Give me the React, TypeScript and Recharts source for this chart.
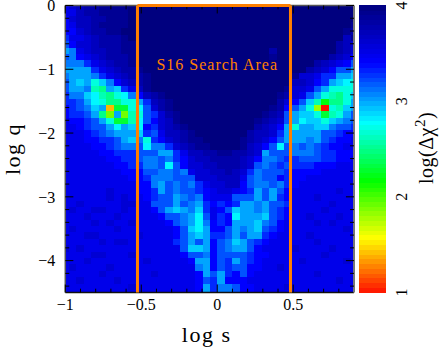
import React from "react";
import { ScatterChart, Scatter, XAxis, YAxis, ReferenceLine, ReferenceDot } from "recharts";

// log(delta chi^2) x 10; rows run from q=0 downward, columns from s=-1 rightward
const rows: number[][] = [
[35,36,37,38,38,39,39,39,39,40,40,40,40,40,40,40,40,40,40,40,40,40,40,40,40,40,40,40,40,40,40,40,40,40,40,40,40,40,40,40],
[35,35,37,38,38,39,39,39,39,40,40,40,40,40,40,40,40,40,40,40,40,40,40,40,40,40,40,40,40,40,40,40,40,40,40,40,40,40,40,40],
[34,36,37,37,38,38,39,39,39,40,40,40,40,40,40,40,40,40,40,40,40,40,40,40,40,40,40,40,40,40,40,40,40,40,40,40,40,40,40,40],
[34,35,37,37,38,39,39,39,39,40,40,40,40,40,40,40,40,40,40,40,40,40,40,40,40,40,40,40,40,40,40,40,40,40,40,40,40,40,40,39],
[34,34,36,37,38,38,39,39,40,40,40,40,40,40,40,40,40,40,40,40,40,40,40,40,40,40,40,40,40,40,40,40,40,40,40,40,40,40,39,38],
[33,35,35,36,37,38,38,38,39,40,40,40,40,40,40,40,40,40,40,40,40,40,40,40,40,40,40,40,40,40,40,40,40,40,40,40,40,40,37,39],
[32,34,36,36,37,38,38,38,39,39,40,40,40,40,40,40,40,40,40,40,40,40,40,40,40,40,40,40,40,40,40,40,40,40,40,40,40,38,37,36],
[30,31,35,36,37,37,38,38,39,39,40,40,40,40,40,40,40,40,40,40,40,40,40,40,40,40,40,40,38,40,40,40,40,40,40,40,40,38,37,36],
[32,31,34,35,36,37,38,38,38,39,40,40,40,40,40,40,40,40,40,40,40,40,40,40,40,40,40,40,39,40,40,40,40,40,40,40,38,37,36,34],
[31,31,31,33,35,36,37,38,38,39,40,40,40,40,40,40,40,40,40,40,40,40,40,40,40,40,40,40,40,40,40,40,40,40,38,37,36,35,34,32],
[30,30,30,30,33,35,36,37,38,38,39,40,40,40,40,40,40,40,40,40,40,40,40,40,40,40,40,40,40,40,40,40,40,38,37,36,34,32,32,30],
[31,30,30,30,31,33,35,36,37,38,38,39,40,40,40,40,40,40,40,40,40,40,40,40,40,40,40,40,40,40,40,39,36,36,35,33,33,30,30,29],
[32,30,29,30,27,29,31,34,36,37,38,39,40,40,40,40,40,40,40,40,40,40,40,40,40,40,40,40,40,40,40,37,37,36,34,33,30,29,28,27],
[32,30,30,31,26,25,30,29,33,35,37,39,40,40,40,40,40,40,40,40,40,40,40,40,40,40,40,40,40,40,39,36,36,35,32,30,27,27,27,27],
[33,31,31,29,28,26,25,27,28,31,34,37,38,39,40,40,40,40,40,40,40,40,40,40,40,40,40,40,40,39,38,36,35,32,30,27,26,25,27,29],
[33,33,32,30,28,27,25,25,27,27,30,33,37,38,39,40,40,40,40,40,40,40,40,40,40,40,40,40,40,38,36,34,32,29,26,22,25,25,27,30],
[34,33,32,31,29,30,14,23,23,27,28,32,36,38,39,40,40,40,40,40,40,40,40,40,40,40,40,40,39,38,34,32,30,27,18,10,27,26,29,30],
[34,33,33,32,30,25,19,30,19,26,27,32,33,36,38,39,40,40,40,40,40,40,40,40,40,40,40,39,38,37,32,30,29,29,27,23,26,27,30,32],
[35,34,34,33,32,30,27,23,23,26,28,32,34,36,37,39,40,40,40,40,40,40,40,40,40,40,39,38,37,36,32,30,28,29,29,27,29,30,31,32],
[35,35,34,33,32,32,30,28,30,29,28,34,33,36,37,38,39,40,40,40,40,40,40,40,40,40,38,37,36,34,30,27,30,30,29,29,31,32,32,33],
[35,35,35,34,33,32,31,30,30,30,29,33,32,35,37,37,38,39,40,40,40,40,40,40,40,38,37,37,36,33,30,30,30,30,30,32,32,33,34,34],
[35,35,35,34,34,33,33,32,30,29,31,27,33,34,36,37,38,39,39,40,40,40,40,40,39,38,37,36,34,32,30,30,30,31,30,32,33,34,34,35],
[35,35,35,35,34,34,33,32,31,31,32,28,31,31,33,36,37,38,39,39,40,40,40,40,39,37,36,34,32,28,32,31,32,31,32,33,34,34,35,35],
[35,35,35,35,35,34,34,33,33,33,32,32,32,30,30,33,35,37,37,38,38,39,39,38,38,37,36,30,32,32,32,31,31,31,32,33,33,34,34,34],
[35,35,35,35,35,35,34,34,33,33,32,31,31,32,31,33,34,36,37,37,38,38,38,38,37,36,34,31,31,32,33,33,32,32,32,33,33,34,34,35],
[35,35,35,35,35,35,35,34,34,33,33,31,31,32,28,32,34,36,36,37,37,38,38,38,37,36,32,31,32,33,32,33,33,33,34,34,34,35,35,35],
[35,35,35,35,35,35,35,35,34,34,34,32,32,31,31,32,31,35,36,36,37,37,38,37,36,33,31,32,32,32,33,34,34,34,34,35,35,35,35,35],
[35,35,35,35,35,35,35,35,35,34,34,33,31,31,31,32,32,32,36,36,36,37,37,37,35,32,31,32,32,34,33,34,34,35,35,35,35,35,35,35],
[35,35,35,35,35,35,35,35,35,35,34,34,31,30,32,31,32,31,33,35,36,36,37,37,34,32,31,31,32,31,33,34,35,35,35,35,35,35,35,35],
[35,35,35,35,35,35,36,35,35,35,34,34,33,30,32,31,32,32,33,34,35,36,36,35,34,33,30,32,30,32,34,35,35,35,35,35,35,36,35,35],
[35,35,35,35,35,35,36,35,36,35,35,34,33,32,32,30,31,32,31,34,35,35,35,32,32,32,30,32,30,33,34,35,35,35,36,35,35,35,35,35],
[35,35,36,35,35,35,35,35,36,36,35,35,32,32,32,30,32,31,30,33,34,33,34,33,30,30,31,30,32,32,33,35,35,35,35,35,36,35,35,35],
[35,36,35,35,36,36,35,35,36,35,35,35,34,32,30,29,30,31,29,33,35,34,32,29,30,30,31,30,32,33,34,35,35,35,35,36,35,35,35,35],
[35,35,35,36,35,35,35,36,35,35,35,35,35,34,32,32,31,30,28,32,35,33,34,28,30,30,30,29,32,33,34,35,35,36,35,35,35,36,35,35],
[35,35,35,35,36,35,36,35,35,36,35,35,35,35,34,32,31,30,28,31,34,33,34,30,30,30,29,31,32,34,35,35,35,35,36,35,36,35,35,35],
[35,36,35,35,35,35,35,36,35,35,35,35,35,35,35,34,32,29,28,30,34,34,32,30,31,30,29,32,33,34,35,35,35,35,35,35,35,35,36,35],
[35,35,35,36,36,35,35,35,35,35,36,35,35,35,35,34,32,30,29,30,33,33,32,30,32,30,30,33,34,35,35,35,35,36,35,35,35,35,35,35],
[35,35,35,35,35,36,35,36,36,35,35,35,35,35,35,33,32,30,32,30,34,32,31,29,30,32,33,34,35,35,35,35,35,35,36,35,35,35,35,35],
[36,35,36,35,35,35,35,35,35,35,35,35,35,35,35,35,32,29,29,30,34,32,31,30,30,32,34,35,35,35,35,36,35,35,35,35,36,35,35,35],
[35,35,35,35,36,36,35,35,35,36,35,35,35,35,35,35,34,32,32,31,34,32,32,32,32,33,34,34,35,35,35,35,35,35,35,36,35,35,35,35],
[35,35,35,36,35,35,35,35,35,35,35,36,35,35,35,35,35,34,30,30,34,32,33,30,32,33,34,35,35,35,35,35,36,35,35,35,35,35,36,35],
[35,36,35,35,35,35,36,35,35,35,35,35,35,35,35,35,35,35,31,30,34,32,33,32,32,34,34,35,35,36,35,35,35,35,35,35,35,35,35,35],
[35,35,35,35,35,36,35,35,35,35,35,35,36,35,35,35,35,35,34,30,32,30,33,34,32,34,35,35,35,35,35,35,35,35,36,35,35,35,35,35],
[35,35,36,35,35,35,35,36,35,35,35,35,35,35,35,35,35,35,34,32,33,30,34,34,34,35,35,35,35,35,35,35,35,35,35,35,35,36,35,35],
[35,35,35,35,35,35,35,35,35,36,35,35,35,35,35,35,35,35,34,30,33,31,31,32,34,34,35,35,35,35,36,35,35,35,35,35,35,35,35,35],
[35,35,35,35,35,35,35,35,35,35,35,35,35,35,35,35,35,35,34,30,33,31,31,32,34,34,35,35,35,35,35,35,35,35,35,35,35,35,35,35],
];
const firstS = -0.9996;
const stepS = 0.0488;
const firstQ = -0.009;
const stepQ = 0.1;

const xLabelTicks = [-1, -0.5, 0, 0.5];
const yLabelTicks = [0, -1, -2, -3, -4];
const xMinor = [-0.9,-0.8,-0.7,-0.6,-0.4,-0.3,-0.2,-0.1,0.1,0.2,0.3,0.4,0.6,0.7,0.8];
const yMinor = [-0.2,-0.4,-0.6,-0.8,-1.2,-1.4,-1.6,-1.8,-2.2,-2.4,-2.6,-2.8,-3.2,-3.4,-3.6,-3.8,-4.2,-4.4];
const barLevels = [1,1.05,1.1,1.15,1.2,1.25,1.3,1.35,1.4,1.45,1.5,1.55,1.6,1.65,1.7,1.75,1.8,1.85,1.9,1.95,2,2.05,2.1,2.15,2.2,2.25,2.3,2.35,2.4,2.45,2.5,2.55,2.6,2.65,2.7,2.75,2.8,2.85,2.9,2.95,3,3.05,3.1,3.15,3.2,3.25,3.3,3.35,3.4,3.45,3.5,3.55,3.6,3.65,3.7,3.75,3.8,3.85,3.9,3.95];
const barTicksMajor = [1,2,3,4];
const barTicksMinor = [1.2,1.4,1.6,1.8,2.2,2.4,2.6,2.8,3.2,3.4,3.6,3.8];
const searchBounds = [-0.525, 0.482];

const stops: [number, number, number, number][] = [
  [1, 255, 16, 0], [1.57, 255, 255, 0], [2.17, 0, 255, 0], [2.78, 0, 255, 255], [3.4, 0, 0, 255], [4, 0, 0, 127],
];
function color(v: number) {
  const c = Math.min(4, Math.max(1, v));
  for (let k = 0; k < stops.length - 1; k++) {
    const a = stops[k], b = stops[k + 1];
    if (c <= b[0]) {
      const t = (c - a[0]) / (b[0] - a[0]);
      const m = (n: number) => Math.round(a[n] + (b[n] - a[n]) * t);
      return `rgb(${m(1)},${m(2)},${m(3)})`;
    }
  }
  return "rgb(0,0,127)";
}

const cells = rows.flatMap((r, j) => r.map((v, i) => ({ s: firstS + stepS * i, q: firstQ - stepQ * j, v: v / 10 })));
const barCells = barLevels.map((l) => ({ a: 0.5, l: l + 0.025, v: l + 0.025 }));

const SERIF = "'Liberation Serif', serif";
const ORANGE = "#ff7f00";

const Cell = (p: any) => (
  <rect x={p.cx - 3.7} y={p.cy - 3.19} width={7.9} height={6.7} fill={color(p.payload.v)} shapeRendering="crispEdges" />
);
const BarCell = (p: any) => (
  <rect x={p.cx - 14} y={p.cy - 2.7} width={28} height={5.4} fill={color(p.payload.v)} shapeRendering="crispEdges" />
);
const seg = (x1: number, y1: number, x2: number, y2: number, key: string, stroke = "#000", w = 1) => (
  <ReferenceLine key={key} segment={[{ x: x1, y: y1 }, { x: x2, y: y2 }]} stroke={stroke} strokeWidth={w} />
);
const fmt = (v: number) => String(v).replace("-", "\u2212");
const abs = (left: number): React.CSSProperties => ({ position: "absolute", left, top: 0 });

export default function App() {
  return (
    <div style={{ position: "absolute", left: 0, top: 0, width: 441, height: 349, overflow: "hidden", fontFamily: SERIF }}>
      <div style={abs(0)}>
        <ScatterChart width={355} height={349} margin={{ top: 5.5, right: 1, bottom: 0, left: 0 }}>
          <XAxis type="number" dataKey="s" domain={[-1, 0.9]} allowDataOverflow ticks={xLabelTicks} height={56.5} interval={0}
            tickLine={false} tickSize={0} tickMargin={6} axisLine={false}
            tick={{ fontSize: 16, fill: "#000", fontFamily: SERIF }} tickFormatter={fmt}
            label={{ value: "log  s", position: "insideBottom", offset: 7, fontSize: 22, fill: "#000", fontFamily: SERIF, style: { whiteSpace: "pre", letterSpacing: 1.5 }, dx: -3 }} />
          <YAxis type="number" dataKey="q" domain={[-4.5, 0]} allowDataOverflow ticks={yLabelTicks} width={65.3} interval={0}
            tickLine={false} tickSize={0} tickMargin={10} axisLine={false}
            tick={{ fontSize: 16, fill: "#000", fontFamily: SERIF }} tickFormatter={fmt}
            label={{ value: "log  q", angle: -90, position: "insideLeft", offset: 12, fontSize: 22, fill: "#000", fontFamily: SERIF, style: { whiteSpace: "pre", letterSpacing: 1.5, textAnchor: "middle" } }} />
          <Scatter data={cells} shape={Cell} isAnimationActive={false} />
        </ScatterChart>
      </div>
      <div style={abs(0)}>
        <ScatterChart width={355} height={349} margin={{ top: 5.5, right: 1, bottom: 56.5, left: 65.3 }}>
          <XAxis type="number" dataKey="s" domain={[-1, 0.9]} allowDataOverflow hide />
          <YAxis type="number" dataKey="q" domain={[-4.5, 0]} allowDataOverflow hide />
          {seg(-1, -4.5, 0.9, -4.5, "fb", "#111", 1.5)}
          {seg(-1, 0, 0.9, 0, "ft", "#555", 1.5)}
          {seg(0.9, 0, 0.9, -4.5, "fr", "#777", 2)}
          {seg(-1, 0, -1, -4.5, "fl", "#555", 1.5)}
          {xLabelTicks.flatMap((t) => [seg(t, -4.5, t, -4.375, `xb${t}`), seg(t, 0, t, -0.125, `xt${t}`)])}
          {xMinor.flatMap((t) => [seg(t, -4.5, t, -4.44, `xn${t}`), seg(t, 0, t, -0.06, `xm${t}`)])}
          {yLabelTicks.flatMap((t) => [seg(-1, t, -0.947, t, `yl${t}`), seg(0.9, t, 0.847, t, `yr${t}`)])}
          {yMinor.flatMap((t) => [seg(-1, t, -0.974, t, `yn${t}`), seg(0.9, t, 0.874, t, `ym${t}`)])}
          {seg(searchBounds[0], 0, searchBounds[0], -4.5, "s1", ORANGE, 3)}
          {seg(searchBounds[1], 0, searchBounds[1], -4.5, "s2", ORANGE, 3)}
          {seg(searchBounds[0], 0, searchBounds[1], 0, "s3", ORANGE, 3)}
          <ReferenceDot x={0} y={-0.93} r={0} stroke="none" fill="none"
            label={{ value: "S16 Search Area", fill: ORANGE, fontSize: 16, fontFamily: SERIF, position: "center", style: { letterSpacing: 1 } }} />
        </ScatterChart>
      </div>
      <div style={abs(359)}>
        <ScatterChart width={82} height={349} margin={{ top: 5.5, right: 0, bottom: 0, left: 0 }}>
          <XAxis type="number" dataKey="a" domain={[0, 1]} height={56.5} axisLine={false} tick={false} tickLine={false} />
          <YAxis type="number" dataKey="l" orientation="right" domain={[1, 4]} ticks={barTicksMajor} width={56} interval={0}
            axisLine={false} tickLine={false}
            tick={(p: any) => (
              <text transform={`translate(${p.x + 14},${p.y}) rotate(-90)`} textAnchor="middle" fontSize={16} fontFamily={SERIF} fill="#000">
                {p.payload.value}
              </text>
            )} />
          <Scatter data={barCells} shape={BarCell} isAnimationActive={false} />
        </ScatterChart>
      </div>
      <div style={abs(359)}>
        <ScatterChart width={82} height={349} margin={{ top: 5.5, right: 56, bottom: 56.5, left: 0 }}>
          <XAxis type="number" dataKey="a" domain={[0, 1]} hide />
          <YAxis type="number" dataKey="l" domain={[1, 4]} hide />
          {seg(0, 1, 1, 1, "b1", "#111", 1.5)}
          {seg(0, 4, 1, 4, "b2", "#555", 1.5)}
          {seg(0, 1, 0, 4, "b3", "#777", 2)}
          {seg(1, 1, 1, 4, "b4", "#333", 1)}
          {barTicksMajor.flatMap((t) => [seg(0, t, 0.3, t, `m${t}`), seg(1, t, 0.7, t, `n${t}`)])}
          {barTicksMinor.flatMap((t) => [seg(0, t, 0.15, t, `o${t}`), seg(1, t, 0.85, t, `p${t}`)])}
        </ScatterChart>
      </div>
      <svg width={441} height={349} style={{ position: "absolute", left: 0, top: 0, pointerEvents: "none" }}>
        <text transform="translate(433,148) rotate(-90)" textAnchor="middle" fontFamily={SERIF} fontSize={20} fill="#000" style={{ letterSpacing: 0.5 }}>
          log(&#916;&#967;<tspan dy={-8} fontSize={15}>2</tspan><tspan dy={8}>)</tspan>
        </text>
      </svg>
    </div>
  );
}
